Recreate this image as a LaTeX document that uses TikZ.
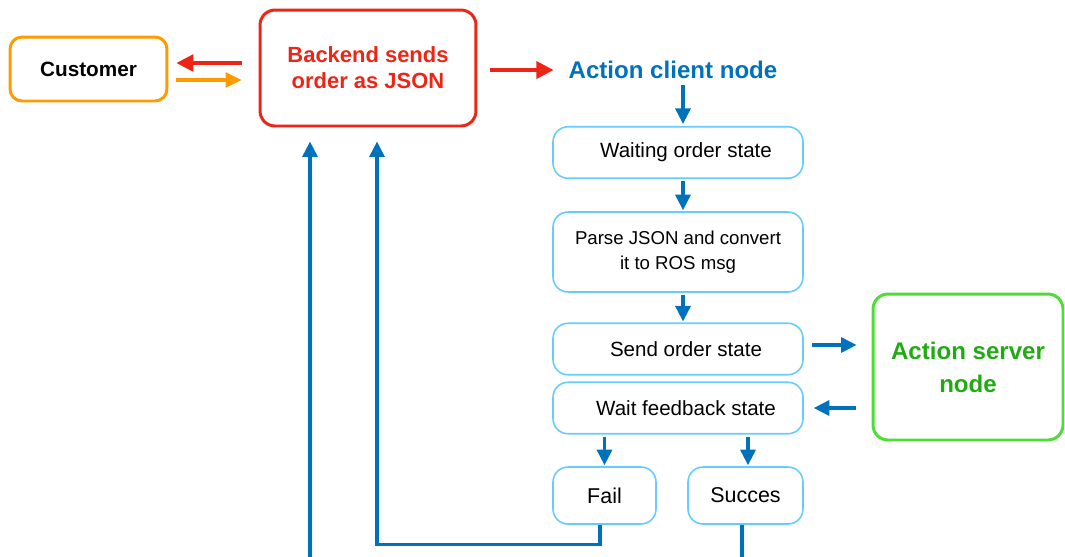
\documentclass[tikz,border=0pt]{standalone}
\usepackage{fontspec}
\setmainfont{Liberation Sans}
\usetikzlibrary{arrows.meta}
\definecolor{flowblue}{RGB}{0,114,188}
\definecolor{stateblue}{RGB}{102,204,255}
\definecolor{backred}{RGB}{236,38,22}
\definecolor{custorange}{RGB}{255,154,0}
\definecolor{servergreen}{RGB}{76,222,52}
\definecolor{servertext}{RGB}{34,170,20}

\begin{document}
\begin{tikzpicture}[x=0.02cm, y=-0.02cm,
  state/.style={draw=stateblue, line width=0.9pt, rounded corners=0.3cm, minimum width=5cm, minimum height=1.03cm, align=center, font=\fontsize{11.7}{14}\selectfont},
  endstate/.style={state, minimum width=2.06cm, minimum height=1.14cm, font=\fontsize{12.2}{14}\selectfont},
  bigbox/.style={line width=1.7pt, rounded corners=0.3cm, align=center, font=\bfseries\fontsize{12.5}{14.8}\selectfont},
  flow/.style={draw=flowblue, line width=1.8pt, -{Triangle[length=0.31cm,width=0.3cm]}},
  redflow/.style={flow, draw=backred, -{Triangle[length=0.34cm,width=0.34cm]}},
  orangeflow/.style={flow, draw=custorange, -{Triangle[length=0.32cm,width=0.3cm]}}]
\useasboundingbox (0,0) rectangle (1065,556);
\clip (0,0) rectangle (1065,556);

% left side
\node[bigbox, draw=custorange, minimum width=3.14cm, minimum height=1.28cm, rounded corners=0.24cm, font=\bfseries\fontsize{11.8}{14}\selectfont] (cust) at (88.5,69) {Customer};
\node[bigbox, draw=backred, text=backred, minimum width=4.32cm, minimum height=2.32cm] (back) at (368,68) {Backend sends\\order as JSON};
\node[text=flowblue, font=\bfseries\fontsize{13.7}{16}\selectfont] (client) at (673,70) {Action client node};

% action client states
\coordinate (spine) at (683,0);
\node[state] (wait) at (678,152.5) {\hspace*{0.32cm}Waiting order state};
\node[state, minimum height=1.6cm, font=\fontsize{10.6}{14.2}\selectfont] (parse) at (678,252) {Parse JSON and convert\\it to ROS msg};
\node[state] (send) at (678,349) {\hspace*{0.32cm}Send order state};
\node[state] (feedback) at (678,408) {\hspace*{0.32cm}Wait feedback state};
\node[endstate] (fail) at (604.5,495.5) {Fail};
\node[endstate, minimum width=2.3cm] (succ) at (745.5,495.5) {Succes};

\node[bigbox, draw=servergreen, text=servertext, minimum width=3.8cm, minimum height=2.92cm, font=\bfseries\fontsize{13.7}{18.8}\selectfont] (server) at (968,367) {Action server\\node};

\draw[redflow, shorten <=0.34cm, shorten >=0.16cm] ([yshift=0.1cm]back.west) -- ([yshift=0.1cm]back.west -| cust.east);
\draw[orangeflow, shorten <=0.16cm, shorten >=0.34cm] ([yshift=-0.24cm]back.west -| cust.east) -- ([yshift=-0.24cm]back.west);
\draw[redflow, shorten <=0.26cm, shorten >=0.18cm] (back.east |- client) -- (client.west);

\draw[flow, shorten >=0.04cm] (client.south -| spine) -- (spine |- wait.north);
\draw[flow, shorten <=0.04cm, shorten >=0.02cm] (spine |- wait.south) -- (spine |- parse.north);
\draw[flow, shorten <=0.04cm, shorten >=0.02cm] (spine |- parse.south) -- (spine |- send.north);
\draw[flow, shorten <=0.16cm, shorten >=0.3cm] ([yshift=0.08cm]send.east) -- ([yshift=0.08cm]send.east -| server.west);
\draw[flow, shorten <=0.32cm, shorten >=0.2cm] (server.west |- feedback) -- (feedback.east);
\draw[flow, shorten <=0.04cm, shorten >=0.02cm] (fail.north |- feedback.south) -- (fail.north);
\draw[flow, shorten <=0.04cm, shorten >=0.02cm] ([xshift=0.05cm]succ.north |- feedback.south) -- ([xshift=0.05cm]succ.north);

% back to the backend
\draw[flow, shorten >=0.28cm] ([xshift=-0.09cm]fail.south) -- ++(0,20) -| ([xshift=0.18cm]back.south);
\draw[flow, shorten >=0.28cm] ([xshift=-0.07cm]succ.south) -- ++(0,60) -| ([xshift=-1.16cm]back.south);
\end{tikzpicture}
\end{document}
